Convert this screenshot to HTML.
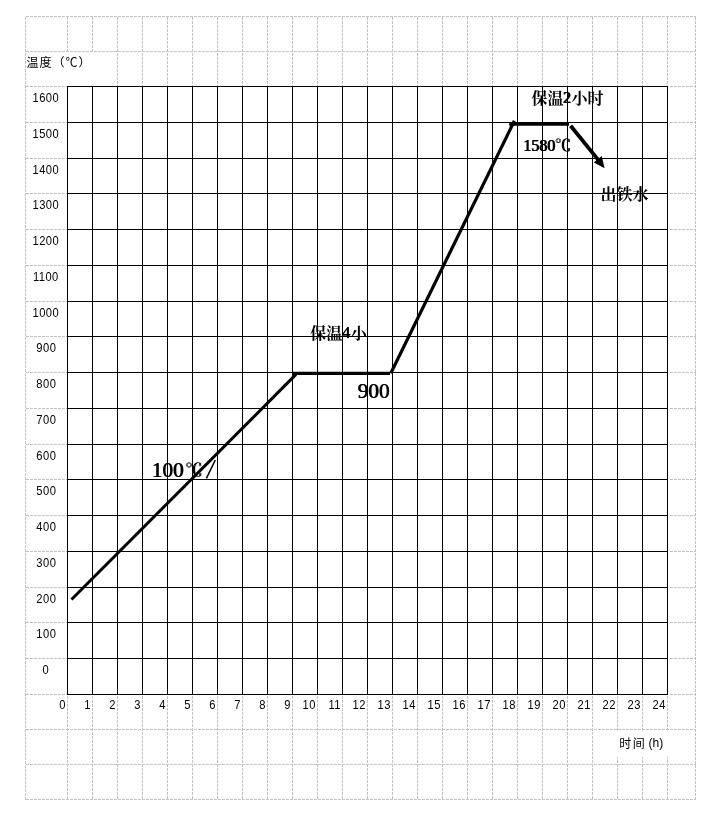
<!DOCTYPE html>
<html lang="zh-CN">
<head>
<meta charset="utf-8">
<title>升温曲线 温度-时间</title>
<style>
html,body{margin:0;padding:0;background:#fff;}
body{width:724px;height:824px;overflow:hidden;font-family:"Liberation Sans",sans-serif;}
svg{display:block;will-change:transform;filter:grayscale(1);}
.dash{stroke:#c3c3c3;stroke-width:1;stroke-dasharray:3 1;fill:none;}
.grid{stroke:#000;stroke-width:1;fill:none;shape-rendering:crispEdges;}
.curve{stroke:#000;stroke-width:3;fill:none;stroke-linecap:butt;}
.num{font-family:"Liberation Sans",sans-serif;font-size:12.7px;fill:#000;letter-spacing:.5px;}
.ylab{text-anchor:middle;}
.xlab{text-anchor:end;}
.tnr{font-family:"Liberation Serif",serif;fill:#000;}
.cjksans{font-family:"Liberation Sans","Noto Sans CJK SC",sans-serif;fill:#000;}
.cjkserif{font-family:"Liberation Serif","Noto Serif CJK SC",serif;fill:#000;font-weight:bold;}
.degc{font-family:"Liberation Serif","Noto Serif CJK SC",serif;fill:#000;}
</style>
</head>
<body>
<svg width="724" height="824" viewBox="0 0 724 824" role="img" aria-label="温度-时间 升温曲线">
<rect x="0" y="0" width="724" height="824" fill="#fff"/>
<g class="dash">
<path d="M26 16.5H696M26 51.5H696M26 729.5H696M26 764.5H696M26 799.5H696M26 86.5H67M670 86.5H696M26 122.5H67M670 122.5H696M26 158.5H67M670 158.5H696M26 193.5H67M670 193.5H696M26 229.5H67M670 229.5H696M26 265.5H67M670 265.5H696M26 301.5H67M670 301.5H696M26 336.5H67M670 336.5H696M26 372.5H67M670 372.5H696M26 408.5H67M670 408.5H696M26 444.5H67M670 444.5H696M26 479.5H67M670 479.5H696M26 515.5H67M670 515.5H696M26 551.5H67M670 551.5H696M26 587.5H67M670 587.5H696M26 622.5H67M670 622.5H696M26 658.5H67M670 658.5H696M26 694.5H67M670 694.5H696"/>
<path d="M25.5 17V800M695.5 17V800M67.5 17V51M67.5 696V800M92.5 17V51M92.5 696V800M117.5 17V86M117.5 696V800M142.5 17V86M142.5 696V800M167.5 17V86M167.5 696V800M192.5 17V86M192.5 696V800M217.5 17V86M217.5 696V800M242.5 17V86M242.5 696V800M267.5 17V86M267.5 696V800M292.5 17V86M292.5 696V800M317.5 17V86M317.5 696V800M342.5 17V86M342.5 696V800M367.5 17V86M367.5 696V800M392.5 17V86M392.5 696V800M417.5 17V86M417.5 696V800M442.5 17V86M442.5 696V800M467.5 17V86M467.5 696V800M492.5 17V86M492.5 696V800M517.5 17V86M517.5 696V800M542.5 17V86M542.5 696V800M567.5 17V86M567.5 696V800M592.5 17V86M592.5 696V800M617.5 17V86M617.5 696V800M642.5 17V86M642.5 696V800M667.5 17V86M667.5 696V800"/>
</g>
<rect x="605" y="730.5" width="86" height="26.8" fill="#fff"/>
<path class="grid" d="M67.5 86V695M92.5 86V695M117.5 86V695M142.5 86V695M167.5 86V695M192.5 86V695M217.5 86V695M242.5 86V695M267.5 86V695M292.5 86V695M317.5 86V695M342.5 86V695M367.5 86V695M392.5 86V695M417.5 86V695M442.5 86V695M467.5 86V695M492.5 86V695M517.5 86V695M542.5 86V695M567.5 86V695M592.5 86V695M617.5 86V695M642.5 86V695M667.5 86V695M67 86.5H668M67 122.5H668M67 158.5H668M67 193.5H668M67 229.5H668M67 265.5H668M67 301.5H668M67 336.5H668M67 372.5H668M67 408.5H668M67 444.5H668M67 479.5H668M67 515.5H668M67 551.5H668M67 587.5H668M67 622.5H668M67 658.5H668M67 694.5H668"/>
<g class="num ylab">
<text transform="translate(45.8 102.1) scale(.88 1)">1600</text>
<text transform="translate(45.8 138.1) scale(.88 1)">1500</text>
<text transform="translate(45.8 174.1) scale(.88 1)">1400</text>
<text transform="translate(45.8 209.1) scale(.88 1)">1300</text>
<text transform="translate(45.8 245.1) scale(.88 1)">1200</text>
<text transform="translate(45.8 281.1) scale(.88 1)">1100</text>
<text transform="translate(45.8 317.1) scale(.88 1)">1000</text>
<text transform="translate(46.3 352.1) scale(.88 1)">900</text>
<text transform="translate(46.3 388.1) scale(.88 1)">800</text>
<text transform="translate(46.3 424.1) scale(.88 1)">700</text>
<text transform="translate(46.3 460.1) scale(.88 1)">600</text>
<text transform="translate(46.3 495.1) scale(.88 1)">500</text>
<text transform="translate(46.3 531.1) scale(.88 1)">400</text>
<text transform="translate(46.3 567.1) scale(.88 1)">300</text>
<text transform="translate(46.3 603.1) scale(.88 1)">200</text>
<text transform="translate(46.3 638.1) scale(.88 1)">100</text>
<text transform="translate(45.8 674.1) scale(.88 1)">0</text>
</g>
<g class="num xlab">
<text transform="translate(65.9 709) scale(.88 1)">0</text>
<text transform="translate(90.9 709) scale(.88 1)">1</text>
<text transform="translate(115.9 709) scale(.88 1)">2</text>
<text transform="translate(140.9 709) scale(.88 1)">3</text>
<text transform="translate(165.9 709) scale(.88 1)">4</text>
<text transform="translate(190.9 709) scale(.88 1)">5</text>
<text transform="translate(215.9 709) scale(.88 1)">6</text>
<text transform="translate(240.9 709) scale(.88 1)">7</text>
<text transform="translate(265.9 709) scale(.88 1)">8</text>
<text transform="translate(290.9 709) scale(.88 1)">9</text>
<text transform="translate(315.9 709) scale(.88 1)">10</text>
<text transform="translate(340.9 709) scale(.88 1)">11</text>
<text transform="translate(365.9 709) scale(.88 1)">12</text>
<text transform="translate(390.9 709) scale(.88 1)">13</text>
<text transform="translate(415.9 709) scale(.88 1)">14</text>
<text transform="translate(440.9 709) scale(.88 1)">15</text>
<text transform="translate(465.9 709) scale(.88 1)">16</text>
<text transform="translate(490.9 709) scale(.88 1)">17</text>
<text transform="translate(515.9 709) scale(.88 1)">18</text>
<text transform="translate(540.9 709) scale(.88 1)">19</text>
<text transform="translate(565.9 709) scale(.88 1)">20</text>
<text transform="translate(590.9 709) scale(.88 1)">21</text>
<text transform="translate(615.9 709) scale(.88 1)">22</text>
<text transform="translate(640.9 709) scale(.88 1)">23</text>
<text transform="translate(665.9 709) scale(.88 1)">24</text>
</g>
<g class="curve">
<line x1="71.5" y1="599.5" x2="296" y2="374.4"/>
<line x1="293" y1="373.4" x2="390" y2="373.4" stroke-width="3.1"/>
<line x1="390.8" y1="373.2" x2="514.4" y2="120.8" stroke-width="3.2"/>
<line x1="509.2" y1="124" x2="569" y2="124" stroke-width="3.5"/>
<line x1="570.6" y1="125.7" x2="598.6" y2="160.4" stroke-width="3.8"/>
</g>
<polygon points="604.6,168.2 601.7,156.1 593.8,162.4" fill="#000"/>
<text class="cjksans" font-size="12" letter-spacing="1" x="26.5" y="66.6">温度（℃）</text>
<text class="cjksans" font-size="12" letter-spacing="1.5" x="619.3" y="747.8">时间</text>
<text class="num" style="letter-spacing:0;font-size:12px" x="648.6" y="747">(h)</text>
<text class="cjkserif" font-size="16" x="531.5" y="103.8">保温</text>
<text class="cjkserif" font-size="16" x="571.5" y="103.8">小时</text>
<text id="t1" class="tnr" font-size="16" text-anchor="middle" stroke="#000" stroke-width="0.15" x="566.8" y="103.4">2</text><use href="#t1" x="0.6"/>
<text id="t2" class="tnr" font-size="16" stroke="#000" stroke-width="0.15" x="522.9" y="150.8">1580</text><use href="#t2" x="0.85"/>
<text id="c1" class="degc" font-size="16" x="554.5" y="150.8">℃</text><use href="#c1" x="1.0"/>
<text class="cjkserif" font-size="16" x="600.5" y="199.5">出铁水</text>
<text class="cjkserif" font-size="16" x="310.3" y="338.6">保温</text>
<text class="cjkserif" font-size="16" x="350.8" y="338.6">小</text>
<text id="t3" class="tnr" font-size="16" text-anchor="middle" stroke="#000" stroke-width="0.15" x="345.9" y="337.8">4</text><use href="#t3" x="0.6"/>
<text id="t4" class="tnr" font-size="21.33" stroke="#000" stroke-width="0.1" x="357.4" y="398.4">900</text><use href="#t4" x="0.65"/>
<text id="t5" class="tnr" font-size="21.33" stroke="#000" stroke-width="0.1" x="151.5" y="476.7">100</text><use href="#t5" x="0.65"/>
<text id="c2" class="degc" font-size="17" x="185" y="476.3">℃</text><use href="#c2" x="0.9"/>
<line x1="206.4" y1="478.4" x2="215.3" y2="460" stroke="#000" stroke-width="1.5"/>
</svg>
</body>
</html>
